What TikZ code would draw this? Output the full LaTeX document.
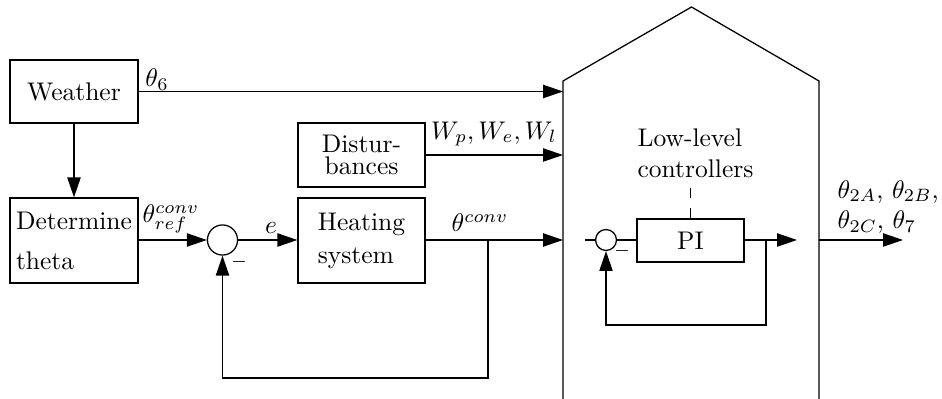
\documentclass[tikz,border=0pt]{standalone}
\usetikzlibrary{arrows.meta}
\begin{document}
\begin{tikzpicture}[x=0.392pt,y=-0.392pt, line width=0.5pt,
  blk/.style={draw, rectangle, inner sep=0pt},
  sumc/.style={draw, circle, inner sep=0pt},
  arr/.style={-{Triangle[length=7.8pt,width=5.2pt]}},
  lbl/.style={inner sep=0pt}]
\useasboundingbox (0,0) rectangle (942,399);

% blocks
\node[blk, minimum width=50.2pt, minimum height=24.7pt] (weather) at (74,91.5) {Weather};
\node[blk, minimum width=50.2pt, minimum height=33.3pt, align=left] (det) at (74,240.5) {Determine\\[3.7pt]theta};
\node[blk, minimum width=49.8pt, minimum height=25.1pt, align=center] (dist) at (361.5,155) {Distur-\\[-3.3pt]bances};
\node[blk, minimum width=49.8pt, minimum height=33.3pt, align=left] (heat) at (361.5,240.5) {Heating\\[1pt]system};
\node[sumc, minimum size=11.8pt] (s1) at (222.5,240) {};
\node[blk, minimum width=41.9pt, minimum height=16.9pt] (pi) at (690.5,240.5) {PI};
\node[sumc, minimum size=8.2pt] (s2) at (606,240) {};

% house
\draw (563,399) -- (563,81) -- (691.5,7) -- (819,81) -- (819,399);
\coordinate (hl) at (563,0);
\coordinate (hr) at (819,240);
\coordinate (out) at (903,240);
\coordinate (fbA) at (488,240);
\coordinate (fbAb) at (488,378);
\coordinate (inL) at (585,240);
\coordinate (piout) at (797,240);
\coordinate (fbB) at (766,240);
\coordinate (fbBb) at (766,325);
\coordinate (dtop) at (690.5,188);

% connectors
\draw[arr] (weather.east) -- (weather.east -| hl);
\draw[arr] (weather.south) -- (det.north);
\draw[arr] (dist.east) -- (dist.east -| hl);
\draw[arr] (det.east |- s1.west) -- (s1.west);
\draw[arr] (s1.east) -- (heat.west |- s1.east);
\draw[arr] (heat.east |- s1.east) -- (s1.east -| hl);
\draw[arr] (fbA) -- (fbAb) -| (s1.south);
\draw (inL) -- (s2.west);
\draw (s2.east) -- (pi.west |- s2.east);
\draw[arr] (pi.east |- s2.east) -- (piout);
\draw[arr] (fbB) -- (fbBb) -| (s2.south);
\draw[dashed, dash pattern=on 4pt off 4pt] (pi.north) -- (dtop);
\draw[arr] (hr) -- (out);

% labels
\node[lbl] at (157,80) {$\theta_6$};
\node[lbl] at (171,219) {$\theta_{ref}^{conv}$};
\node[lbl] at (271,228) {$e$};
\node[lbl] at (480,223) {$\theta^{conv}$};
\node[lbl] at (494,134) {$W_p, W_e, W_l$};
\node[lbl, align=left, anchor=west] at (637,153) {Low-level\\controllers};
\node[lbl, align=left, anchor=west] at (837,207) {$\theta_{2A}$, $\theta_{2B}$,\\$\theta_{2C}$, $\theta_7$};
\node[lbl] at (239,262) {\scriptsize$-$};
\node[lbl] at (622,251) {\scriptsize$-$};
\node[lbl] at (632,325) {\scriptsize$-$};
\end{tikzpicture}
\end{document}
